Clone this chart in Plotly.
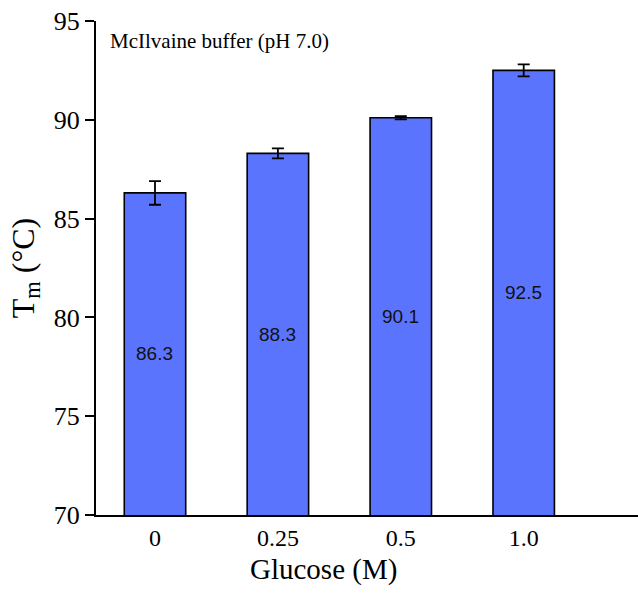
import plotly.graph_objects as go

# Melting temperature vs glucose concentration
glucose = ["0", "0.25", "0.5", "1.0"]
tm_values = [86.3, 88.3, 90.1, 92.5]
tm_errors = [0.6, 0.25, 0.08, 0.3]

y_min, y_max = 70, 95
serif = "Liberation Serif, Times New Roman, serif"
sans = "Liberation Sans, Arial, sans-serif"

xs = list(range(len(glucose)))

fig = go.Figure()
fig.add_trace(go.Bar(
    x=xs,
    y=tm_values,
    width=0.5,
    marker=dict(color="#5B74FE", line=dict(color="black", width=1.6)),
    error_y=dict(type="data", array=tm_errors, visible=True,
                 color="black", thickness=1.8, width=6),
    hoverinfo="skip",
))

# value labels centred in the visible part of each bar
for x, v in zip(xs, tm_values):
    fig.add_annotation(
        x=x, y=(y_min + v) / 2, xref="x", yref="y",
        text=f"{v:.1f}", showarrow=False,
        font=dict(family=sans, size=19, color="#111111"),
    )

fig.add_annotation(
    x=0.022, y=0.96, xref="paper", yref="paper",
    xanchor="left", yanchor="middle",
    text="McIlvaine buffer (pH 7.0)", showarrow=False,
    font=dict(family=serif, size=21, color="black"),
)

# x-axis title, centred under the bar group
fig.add_annotation(
    x=0.42, y=-0.072, xref="paper", yref="paper",
    xanchor="center", yanchor="top",
    text="Glucose (M)", showarrow=False,
    font=dict(family=serif, size=29, color="black"),
)

fig.update_layout(
    width=638, height=594,
    margin=dict(l=96, r=0, t=21, b=79),
    plot_bgcolor="white", paper_bgcolor="white",
    showlegend=False,
    xaxis=dict(
        range=[-0.48, 3.93],
        tickmode="array", tickvals=xs, ticktext=glucose,
        showline=True, linecolor="black", linewidth=2,
        ticks="", showgrid=False, zeroline=False,
        tickfont=dict(family=serif, size=24, color="black"),
    ),
    yaxis=dict(
        range=[y_min, y_max], dtick=5,
        showline=True, linecolor="black", linewidth=2,
        ticks="outside", ticklen=9, tickwidth=2, tickcolor="black",
        showgrid=False, zeroline=False,
        tickfont=dict(family=serif, size=26, color="black"),
        title=dict(text="T<sub>m</sub> (°C)", font=dict(family=serif, size=32, color="black"), standoff=10),
    ),
)

fig.write_html("out.html")
